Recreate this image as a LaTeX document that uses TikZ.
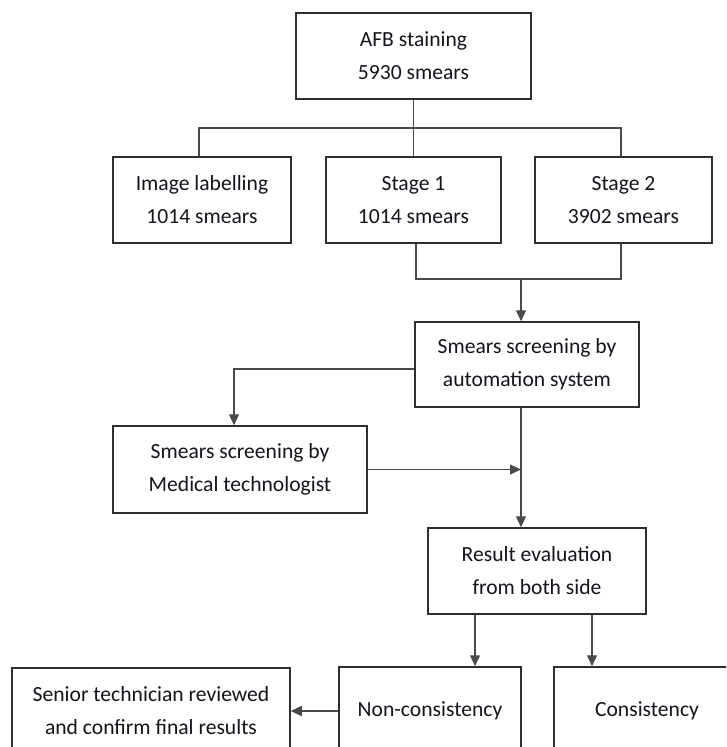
\documentclass[tikz,border=0pt]{standalone}
\usepackage{fontspec}
\setmainfont{Carlito}
\usetikzlibrary{arrows.meta,calc}
\definecolor{boxline}{HTML}{2E2E2E}
\definecolor{conline}{HTML}{4A4A4A}
\definecolor{txt}{HTML}{14141C}
\tikzset{
  box/.style={draw=boxline, line width=1.5pt, rectangle, align=center, text=txt,
    font=\fontsize{21.6}{33}\selectfont, inner sep=0pt},
  con/.style={draw=conline, line width=1.2pt},
  arr/.style={con, -{Triangle[length=11pt,width=10pt]}}
}
\begin{document}
\begin{tikzpicture}[x=1pt,y=-1pt]
\useasboundingbox (0,0) rectangle (726,747);
\clip (0,0) rectangle (726,747);
\node[box, minimum width=235, minimum height=86] (afb) at (413.5,56) {AFB staining\\ 5930 smears};
\node[box, minimum width=178, minimum height=86] (il) at (202,200) {Image labelling\\ 1014 smears};
\node[box, minimum width=175, minimum height=86] (s1) at (413.5,200) {Stage 1\\ 1014 smears};
\node[box, minimum width=177, minimum height=86] (s2) at (623.5,200) {Stage 2\\ 3902 smears};
\node[box, minimum width=224, minimum height=85] (auto) at (527,364.5) {Smears screening by\\ automation system};
\node[box, minimum width=254, minimum height=87] (med) at (240,469.5) {Smears screening by\\ Medical technologist};
\node[box, minimum width=218, minimum height=86] (res) at (537,571) {Result evaluation\\ from both side};
\node[box, minimum width=182, minimum height=88] (non) at (430,711) {Non-consistency};
\node[box, minimum width=186, minimum height=88] (con) at (647,711) {Consistency};
\node[box, minimum width=278, minimum height=86] (sen) at (151,711) {Senior technician reviewed\\ and confirm final results};
\coordinate (hb) at (0,128);
\coordinate (jb) at (0,279);
\coordinate (av) at (521,0);
% top tree
\draw[con] (afb.south) -- (s1.north);
\draw[con] ([xshift=-3]il.north) |- (afb.south |- hb) -| ([xshift=-2.5]s2.north);
% join of stages
\draw[con] ([xshift=2.5]s1.south) |- ([xshift=-2.5]s2.south |- jb) -- ([xshift=-2.5]s2.south);
\draw[arr] (av |- jb) -- (av |- auto.north);
% automation to medical
\draw[arr] ([yshift=-4.5]auto.west) -| ([xshift=-6]med.north);
% automation to result
\draw[arr] (av |- auto.south) -- (av |- res.north);
% medical to line
\draw[arr] (med.east) -- (med.east -| av);
% result to outcomes
\draw[arr] ([xshift=-62]res.south) -- ([xshift=-62]res.south |- non.north);
\draw[arr] ([xshift=55]res.south) -- ([xshift=55]res.south |- con.north);
% non-consistency to senior
\draw[arr] (non.west) -- (sen.east);
\end{tikzpicture}
\end{document}
